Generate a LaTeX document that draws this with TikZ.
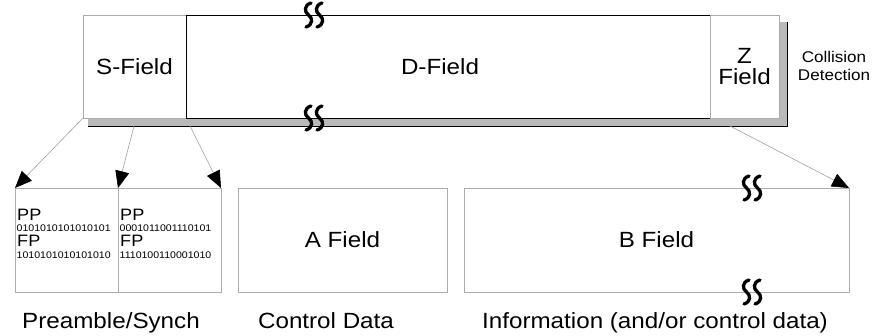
\documentclass[tikz,border=0pt]{standalone}
\usepackage{fontspec}
\usepackage{graphicx}
\setmainfont{Liberation Sans}
\usetikzlibrary{arrows.meta}
\newcommand\wt[1]{\scalebox{1.1}[1]{#1}}
\begin{document}
\begin{tikzpicture}[x=1pt,y=-1pt,
  box/.style={draw=gray!65, line width=0.7pt, inner sep=0pt, outer sep=0pt, anchor=north west,
    font=\fontsize{22}{24}\selectfont, align=center},
  dbox/.style={box, draw=black, line width=0.9pt},
  lbl/.style={font=\fontsize{22}{24}\selectfont, inner sep=0pt, anchor=base},
  small/.style={font=\fontsize{15.5}{18}\selectfont, inner sep=0pt, align=center},
  bits/.style={font=\fontsize{9.6}{10}\selectfont, inner sep=0pt, anchor=base west},
  pp/.style={font=\fontsize{16.5}{17}\selectfont, inner sep=0pt, anchor=base west},
  conn/.style={draw=gray!75, line width=0.6pt, -{Triangle[length=17pt,width=14pt,color=black]}},
  shadow/.style={fill=gray!55},
  squig/.pic={
    \foreach \xo in {-5.5,5.5}{
      \draw[line width=3.3pt, line cap=round, black]
        (\xo+2.5,-12) .. controls (\xo-4.5,-10) and (\xo-4.5,-3) .. (\xo,0)
        .. controls (\xo+4.5,3) and (\xo+4.5,10) .. (\xo-2.5,12);
    }
  }]
\useasboundingbox (0,0) rectangle (880,336);
% shadow
\fill[shadow] (88,118) rectangle (787,126);
\fill[shadow] (779,22) rectangle (787,126);
\draw[black, line width=0.8pt] (88,126) -- (787,126) -- (787,22);
% top frame
\node[box, minimum width=103pt, minimum height=103pt] (sf) at (83,15) {\wt{S-Field}};
\node[dbox, minimum width=524pt, minimum height=103pt] (df) at (186,15) {};
\node[box, minimum width=69pt, minimum height=103pt] (zf) at (710,15) {\wt{Z}\\[-3pt]\wt{Field}};
\node[lbl, anchor=center] (dl) at (440,67) {\wt{D-Field}};
\node[small] (cd) at (834,66) {\wt{Collision}\\\wt{Detection}};
\pic at (314,15) {squig};
\pic at (314,118) {squig};
% lower boxes
\node[box, minimum width=103pt, minimum height=104pt] (pa1) at (15,188) {};
\node[box, minimum width=103pt, minimum height=104pt] (pa2) at (118,188) {};
\node[box, minimum width=209pt, minimum height=104pt] (af) at (238,188) {\wt{A Field}};
\node[box, minimum width=385pt, minimum height=104pt] (bf) at (464,188) {\wt{B Field}};
\pic at (752,188) {squig};
\pic at (752,292) {squig};
% preamble contents
\node[pp] (pp1) at (17,221) {\wt{PP}};
\node[bits] (b1) at (16.5,232) {\wt{0101010101010101}};
\node[pp] (fp1) at (17,247) {\wt{FP}};
\node[bits] (b2) at (16.5,259) {\wt{1010101010101010}};
\node[pp] (pp2) at (120,221) {\wt{PP}};
\node[bits] (b3) at (119.5,232) {\wt{0001011001110101}};
\node[pp] (fp2) at (120,247) {\wt{FP}};
\node[bits] (b4) at (119.5,259) {\wt{1110100110001010}};
% captions
\node[lbl] (cap1) at (111,328) {\wt{Preamble/Synch}};
\node[lbl] (cap2) at (326,328) {\wt{Control Data}};
\node[lbl] (cap3) at (655,328) {\wt{Information (and/or control data)}};
% connectors
\coordinate (s2) at (134,126);
\coordinate (s3) at (190,126);
\coordinate (s4) at (730,126);
\draw[conn] (sf.south west) -- (pa1.north west);
\draw[conn] (s2) -- (pa1.north east);
\draw[conn] (s3) -- (pa2.north east);
\draw[conn] (s4) -- (bf.north east);
\end{tikzpicture}
\end{document}
